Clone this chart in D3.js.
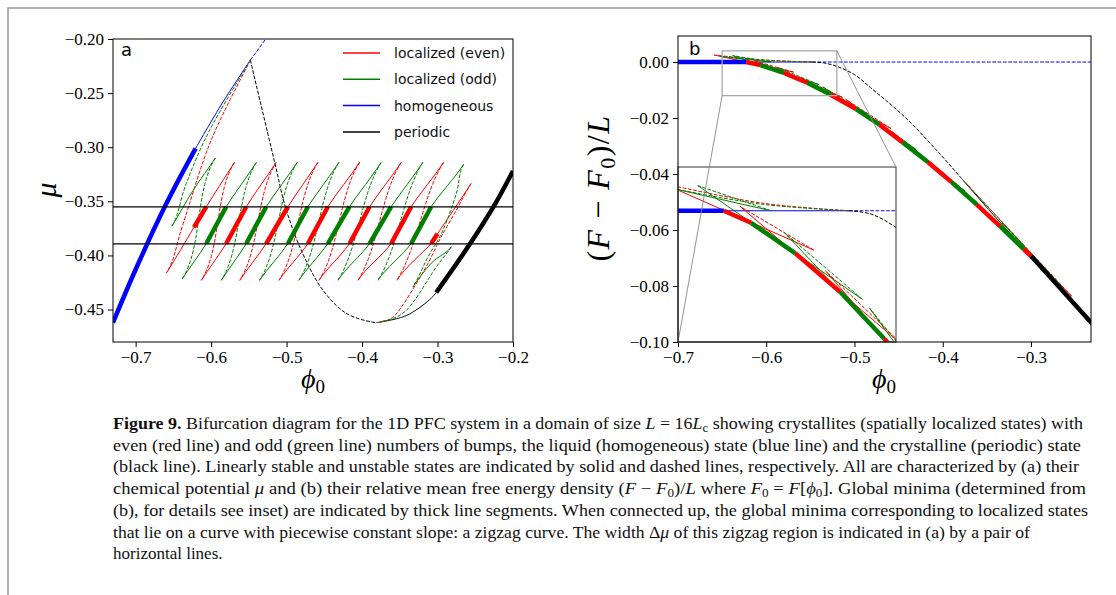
<!DOCTYPE html>
<html>
<head>
<meta charset="utf-8">
<script src="https://cdn.jsdelivr.net/npm/d3@7"></script>
<style>
  body { margin: 0; background: #fff; }
  svg { display: block; }
</style>
</head>
<body>
<script>
// ---------- panel a : chemical potential mu against phi0 ----------
const phiTicksA = [-0.7, -0.6, -0.5, -0.4, -0.3, -0.2];
const muTicksA = [-0.45, -0.40, -0.35, -0.30, -0.25, -0.20];
const zigzagMu = [-0.3552, -0.3894];   // the pair of horizontal lines

const blueThickA = [[-0.73, -0.462], [-0.70, -0.413], [-0.66, -0.353], [-0.6205, -0.301]];
const blueThinA = [[-0.6205, -0.301], [-0.585, -0.259], [-0.548, -0.2195]];
const blueDashA = [[-0.548, -0.2195], [-0.52, -0.1926]];

const blackDashA = [[-0.548, -0.2195], [-0.5159, -0.3136], [-0.5004, -0.358], [-0.4784, -0.3985],
    [-0.452, -0.432], [-0.421, -0.4535], [-0.3857, -0.4617], [-0.3775, -0.4618]];
const blackThinA = [[-0.3775, -0.4618], [-0.3415, -0.4556], [-0.3106, -0.441], [-0.3018, -0.4343]];
const blackThickA = [[-0.3018, -0.4343], [-0.2576, -0.390], [-0.2258, -0.355], [-0.2, -0.322]];

// branch points where the localized branches join the others (no fold there)
const junctionsA = [[-0.548, -0.2195], [-0.3775, -0.4618]];

// localized states, even number of bumps
const redSolidA = [
    [[-0.659, -0.416], [-0.6227, -0.374], [-0.6064, -0.355], [-0.569, -0.314]],
    [[-0.613, -0.423], [-0.580, -0.389], [-0.5534, -0.355], [-0.5137, -0.314]],
    [[-0.562, -0.423], [-0.527, -0.389], [-0.4982, -0.355], [-0.4585, -0.314]],
    [[-0.510, -0.423], [-0.4717, -0.389], [-0.4453, -0.355], [-0.4033, -0.314]],
    [[-0.457, -0.423], [-0.4166, -0.389], [-0.390, -0.355], [-0.3481, -0.314]],
    [[-0.4055, -0.423], [-0.3614, -0.389], [-0.3349, -0.355], [-0.292, -0.314]],
    [[-0.354, -0.423], [-0.3084, -0.389], [-0.300, -0.380], [-0.2556, -0.3336]]
];
const redDashA = [
    [[-0.548, -0.2195], [-0.600, -0.2935], [-0.637, -0.3706], [-0.659, -0.416]],
    [[-0.569, -0.314], [-0.613, -0.423]],
    [[-0.5137, -0.314], [-0.562, -0.423]],
    [[-0.4585, -0.314], [-0.510, -0.423]],
    [[-0.4033, -0.314], [-0.457, -0.423]],
    [[-0.3481, -0.314], [-0.4055, -0.423]],
    [[-0.292, -0.314], [-0.354, -0.423]],
    [[-0.2556, -0.3336], [-0.2752, -0.3583], [-0.296, -0.384], [-0.318, -0.414], [-0.3547, -0.454], [-0.3775, -0.4618]]
];
// localized states, odd number of bumps
const greenSolidA = [
    [[-0.652, -0.373], [-0.624, -0.340], [-0.5945, -0.310]],
    [[-0.6382, -0.4216], [-0.6064, -0.389], [-0.580, -0.355], [-0.540, -0.314]],
    [[-0.5865, -0.423], [-0.5534, -0.389], [-0.527, -0.355], [-0.4859, -0.314]],
    [[-0.5358, -0.423], [-0.4982, -0.389], [-0.4717, -0.355], [-0.4307, -0.314]],
    [[-0.4837, -0.423], [-0.4453, -0.389], [-0.4166, -0.355], [-0.3746, -0.314]],
    [[-0.432, -0.423], [-0.390, -0.389], [-0.3614, -0.355], [-0.3194, -0.314]],
    [[-0.379, -0.423], [-0.3349, -0.389], [-0.3084, -0.355], [-0.2656, -0.316]],
    [[-0.3327, -0.4293], [-0.308, -0.407], [-0.2817, -0.392]]
];
const greenDashA = [
    [[-0.548, -0.2195], [-0.602, -0.2843], [-0.633, -0.3336], [-0.652, -0.373]],
    [[-0.5945, -0.310], [-0.6382, -0.4216]],
    [[-0.540, -0.314], [-0.5865, -0.423]],
    [[-0.4859, -0.314], [-0.5358, -0.423]],
    [[-0.4307, -0.314], [-0.4837, -0.423]],
    [[-0.3746, -0.314], [-0.432, -0.423]],
    [[-0.3194, -0.314], [-0.379, -0.423]],
    [[-0.2656, -0.316], [-0.2752, -0.343], [-0.293, -0.377], [-0.3128, -0.4016], [-0.3327, -0.4293]],
    [[-0.2817, -0.392], [-0.3018, -0.4108], [-0.3415, -0.4509], [-0.3775, -0.4618]]
];

// global minima (thick zigzag), shared by both panels
const zigPhi = [-0.6227, -0.6064, -0.580, -0.5534, -0.527, -0.4982, -0.4717,
    -0.4453, -0.4166, -0.390, -0.3614, -0.3349, -0.3084, -0.300];
const zigMuLo = [-0.374, -0.389, -0.389, -0.389, -0.389, -0.389, -0.389,
    -0.389, -0.389, -0.389, -0.389, -0.389, -0.389];
const zigMuHi = [-0.355, -0.355, -0.355, -0.355, -0.355, -0.355, -0.355,
    -0.355, -0.355, -0.355, -0.355, -0.355, -0.380];
const zigF = [0, -0.0011, -0.0039, -0.0074, -0.0117, -0.0168, -0.0224,
    -0.0287, -0.0358, -0.0429, -0.0509, -0.0587, -0.0668, -0.0693];

// ---------- panel b : (F - F0)/L against phi0 ----------
const phiTicksB = [-0.7, -0.6, -0.5, -0.4, -0.3];
const fTicksB = [0, -0.02, -0.04, -0.06, -0.08, -0.10];
const insetPhi = [-0.65, -0.52];
const insetF = [-0.012, 0.004];

const blueThickB = [[-0.7, 0], [-0.6227, 0]];
const blueThinB = [[-0.6227, 0], [-0.548, 0]];
const blueDashB = [[-0.548, 0], [-0.22, 0]];
const blackDashB = [[-0.548, 0], [-0.535, -0.0003], [-0.5195, -0.0016], [-0.50, -0.0045],
    [-0.482, -0.0091], [-0.4425, -0.0198], [-0.403, -0.0329], [-0.3775, -0.042]];
const blackThinB = [[-0.3775, -0.042], [-0.34, -0.0555], [-0.300, -0.0693]];
const blackThickB = [[-0.300, -0.0693], [-0.265, -0.0814], [-0.225, -0.0955]];

const redSolidB = [
    [[-0.659, 0.0025], [-0.569, -0.0036]],
    [[-0.613, 0.0004], [-0.5137, -0.0126]],
    [[-0.562, -0.0055], [-0.4585, -0.0238]],
    [[-0.510, -0.0133], [-0.4033, -0.0387]],
    [[-0.457, -0.0250], [-0.3481, -0.0541]],
    [[-0.4055, -0.0379], [-0.292, -0.0713]],
    [[-0.354, -0.0527], [-0.254, -0.0836]]
];
const redDashB = [
    [[-0.548, 0], [-0.600, 0.0007], [-0.659, 0.0025]],
    [[-0.569, -0.0036], [-0.613, 0.0004]],
    [[-0.5137, -0.0126], [-0.562, -0.0055]],
    [[-0.4585, -0.0238], [-0.510, -0.0133]],
    [[-0.4033, -0.0387], [-0.457, -0.0250]],
    [[-0.3481, -0.0541], [-0.4055, -0.0379]],
    [[-0.292, -0.0713], [-0.354, -0.0527]],
    [[-0.254, -0.0836], [-0.3775, -0.042]]
];
const greenSolidB = [
    [[-0.652, 0.0020], [-0.5945, 0.0000]],
    [[-0.6382, 0.0023], [-0.540, -0.0081]],
    [[-0.5865, -0.0020], [-0.4859, -0.0184]],
    [[-0.5358, -0.0089], [-0.4307, -0.0311]],
    [[-0.4837, -0.0192], [-0.3746, -0.0462]],
    [[-0.432, -0.0311], [-0.3194, -0.0627]],
    [[-0.379, -0.0452], [-0.2656, -0.0799]],
    [[-0.3327, -0.0575], [-0.2817, -0.0745]]
];
const greenDashB = [
    [[-0.548, 0], [-0.600, 0.0006], [-0.652, 0.0020]],
    [[-0.5945, 0.0000], [-0.6382, 0.0023]],
    [[-0.540, -0.0081], [-0.5865, -0.0020]],
    [[-0.4859, -0.0184], [-0.5358, -0.0089]],
    [[-0.4307, -0.0311], [-0.4837, -0.0192]],
    [[-0.3746, -0.0462], [-0.432, -0.0311]],
    [[-0.3194, -0.0627], [-0.379, -0.0452]],
    [[-0.2656, -0.0799], [-0.3327, -0.0575]],
    [[-0.2817, -0.0745], [-0.3775, -0.042]]
];

const legendLabels = ['localized (even)', 'localized (odd)', 'homogeneous', 'periodic'];

const caption = [
    [['Figure 9.', 'b'], [' Bifurcation diagram for the 1D PFC system in a domain of size '], ['L', 'i'], [' = 16'], ['L', 'i'], ['c', 's'], [' showing crystallites (spatially localized states) with']],
    [['even (red line) and odd (green line) numbers of bumps, the liquid (homogeneous) state (blue line) and the crystalline (periodic) state']],
    [['(black line). Linearly stable and unstable states are indicated by solid and dashed lines, respectively. All are characterized by (a) their']],
    [['chemical potential '], ['\u03bc', 'i'], [' and (b) their relative mean free energy density ('], ['F', 'i'], [' \u2212 '], ['F', 'i'], ['0', 's'], [')/'], ['L', 'i'], [' where '], ['F', 'i'], ['0', 's'], [' = '], ['F', 'i'], ['['], ['\u03d5', 'i'], ['0', 's'], [']. Global minima (determined from']],
    [['(b), for details see inset) are indicated by thick line segments. When connected up, the global minima corresponding to localized states']],
    [['that lie on a curve with piecewise constant slope: a zigzag curve. The width \u0394'], ['\u03bc', 'i'], [' of this zigzag region is indicated in (a) by a pair of']],
    [['horizontal lines.']]
];
const captionWidth = [970, 968, 966, 973, 975, 917, 0];

// ---------- drawing ----------
const RED = '#ff0000', GREEN = '#008000', BLUE = '#0000ff', BLACK = '#000';
const DASH = '3.7,1.6';
const FOLD_DIR = [0.54, -0.84];   // on-screen direction of the narrow loops at their tips

let svg = d3.select('body').append('svg')
    .attr('width', 1116).attr('height', 595)
    .style('font-family', "'Liberation Serif', 'DejaVu Serif', serif");

// figure frame, open to the right and bottom
svg.append('path').attr('d', 'M8,600V8H1120')
    .attr('fill', 'none').attr('stroke', '#9a9a9a').attr('stroke-width', 1.5);

let defs = svg.append('defs');

function lineGen(x, y) {
    return d3.line().x(d => x(d[0])).y(d => y(d[1])).curve(d3.curveCatmullRom.alpha(0.5));
}

function drawLines(g, data, gen, color, width, dashed) {
    g.selectAll(null).data(data).enter().append('path')
        .attr('d', gen)
        .attr('fill', 'none')
        .attr('stroke', color)
        .attr('stroke-width', width)
        .attr('stroke-dasharray', dashed ? DASH : null);
}

// branch piece between two folds: solid and dashed parts share the tangent at
// every fold so the loops close smoothly; Catmull-Rom tangents elsewhere
function isJunction(d) {
    return junctionsA.some(j => j[0] === d[0] && j[1] === d[1]);
}
function foldTangent(a, b, len) {
    let s = (b[0] - a[0]) * FOLD_DIR[0] + (b[1] - a[1]) * FOLD_DIR[1] >= 0 ? 1 : -1;
    return [FOLD_DIR[0] * s * len, FOLD_DIR[1] * s * len];
}
function foldPath(x, y) {
    return function(pts) {
        let p = pts.map(d => [x(d[0]), y(d[1])]);
        let n = p.length;
        let path = d3.path();
        path.moveTo(p[0][0], p[0][1]);
        for (let i = 0; i < n - 1; i++) {
            let a = p[i], b = p[i + 1];
            let len = 0.3 * Math.hypot(b[0] - a[0], b[1] - a[1]);
            let c1, c2;
            if (i === 0 && !isJunction(pts[0])) {
                let t = foldTangent(a, b, len);
                c1 = [a[0] + t[0], a[1] + t[1]];
            } else {
                let prev = i === 0 ? a : p[i - 1];
                c1 = [a[0] + (b[0] - prev[0]) / 6, a[1] + (b[1] - prev[1]) / 6];
            }
            if (i === n - 2 && !isJunction(pts[n - 1])) {
                let t = foldTangent(a, b, len);
                c2 = [b[0] - t[0], b[1] - t[1]];
            } else {
                let next = i === n - 2 ? b : p[i + 2];
                c2 = [b[0] - (next[0] - a[0]) / 6, b[1] - (next[1] - a[1]) / 6];
            }
            path.bezierCurveTo(c1[0], c1[1], c2[0], c2[1], b[0], b[1]);
        }
        return path.toString();
    };
}

function drawAxes(g, x, y, xTicks, yTicks, xFmt, yFmt) {
    let [x0, x1] = x.range(), [y0, y1] = y.range();
    g.append('g').attr('transform', `translate(0,${y0})`)
        .call(d3.axisBottom(x).tickValues(xTicks).tickFormat(d3.format(xFmt)).tickSize(5).tickPadding(4))
        .call(s => s.select('.domain').remove())
        .attr('font-family', null).attr('font-size', 17);
    g.append('g').attr('transform', `translate(${x0},0)`)
        .call(d3.axisLeft(y).tickValues(yTicks).tickFormat(d3.format(yFmt)).tickSize(5).tickPadding(4))
        .call(s => s.select('.domain').remove())
        .attr('font-family', null).attr('font-size', 17);
    g.append('rect').attr('x', x0).attr('y', y1).attr('width', x1 - x0).attr('height', y0 - y1)
        .attr('fill', 'none').attr('stroke', BLACK).attr('stroke-width', 1);
}

function clip(id, x, y) {
    let [x0, x1] = x.range(), [y0, y1] = y.range();
    defs.append('clipPath').attr('id', id).append('rect')
        .attr('x', x0).attr('y', y1).attr('width', x1 - x0).attr('height', y0 - y1);
    return `url(#${id})`;
}

function phiLabel(g, cx, baseline) {
    let t = g.append('text').attr('x', cx).attr('y', baseline).attr('text-anchor', 'middle')
        .attr('font-size', 28);
    t.append('tspan').attr('font-style', 'italic').text('\u03d5');
    t.append('tspan').attr('font-size', 19).attr('dy', 5).text('0');
}

// ----- panel a -----
let xA = d3.scaleLinear().domain([-0.73, -0.2]).range([113, 513]);
let yA = d3.scaleLinear().domain([-0.48, -0.2]).range([342, 39]);
let lineA = lineGen(xA, yA);
let foldA = foldPath(xA, yA);
let gA = svg.append('g');
let plotA = gA.append('g').attr('clip-path', clip('clipA', xA, yA));

drawLines(plotA, [blueThinA], lineA, BLUE, 1);
drawLines(plotA, [blueDashA], lineA, BLUE, 1, true);
drawLines(plotA, [blackDashA], lineA, BLACK, 1, true);
drawLines(plotA, [blackThinA], lineA, BLACK, 1);
drawLines(plotA, redSolidA, foldA, RED, 1);
drawLines(plotA, redDashA, foldA, RED, 1, true);
drawLines(plotA, greenSolidA, foldA, GREEN, 1);
drawLines(plotA, greenDashA, foldA, GREEN, 1, true);
drawLines(plotA, [blueThickA], lineA, BLUE, 4.5);
drawLines(plotA, [blackThickA], lineA, BLACK, 4.5);

plotA.selectAll('.zig').data(zigMuLo).enter().append('line')
    .attr('x1', (d, i) => xA(zigPhi[i])).attr('y1', d => yA(d))
    .attr('x2', (d, i) => xA(zigPhi[i + 1])).attr('y2', (d, i) => yA(zigMuHi[i]))
    .attr('stroke', (d, i) => i % 2 ? GREEN : RED).attr('stroke-width', 4.5);

plotA.selectAll('.hline').data(zigzagMu).enter().append('line')
    .attr('x1', 113).attr('x2', 513).attr('y1', d => yA(d)).attr('y2', d => yA(d))
    .attr('stroke', BLACK).attr('stroke-width', 1.3);

drawAxes(gA, xA, yA, phiTicksA, muTicksA, '.1f', '.2f');

let legend = gA.append('g').attr('font-family', "'DejaVu Sans', sans-serif").attr('font-size', 14);
legend.selectAll('line').data(legendLabels).enter().append('line')
    .attr('x1', 343).attr('x2', 380)
    .attr('y1', (d, i) => 53 + i * 26.3).attr('y2', (d, i) => 53 + i * 26.3)
    .attr('stroke', (d, i) => [RED, GREEN, BLUE, BLACK][i]).attr('stroke-width', 1.5);
legend.selectAll('text').data(legendLabels).enter().append('text')
    .attr('x', 394).attr('y', (d, i) => 58 + i * 26.3).attr('fill', '#111').text(d => d);

gA.append('text').attr('x', 121).attr('y', 56).attr('font-family', "'DejaVu Sans', sans-serif")
    .attr('font-size', 18).text('a');
phiLabel(gA, 313, 388);
gA.append('text').attr('transform', 'translate(56,190) rotate(-90)').attr('text-anchor', 'middle')
    .attr('font-size', 30).attr('font-style', 'italic').text('\u03bc');

// ----- panel b -----
let xB = d3.scaleLinear().domain([-0.7, -0.232]).range([678, 1091]);
let yB = d3.scaleLinear().domain([-0.10, 0.0093]).range([342, 36]);
let xIn = d3.scaleLinear().domain(insetPhi).range([678, 896]);
let yIn = d3.scaleLinear().domain(insetF).range([342, 167]);

function drawB(g, x, y) {
    let gen = lineGen(x, y);
    drawLines(g, [blueThinB], gen, BLUE, 1);
    drawLines(g, [blueDashB], gen, BLUE, 1, true);
    drawLines(g, [blackDashB], gen, BLACK, 1, true);
    drawLines(g, [blackThinB], gen, BLACK, 1);
    drawLines(g, redSolidB, gen, RED, 1);
    drawLines(g, redDashB, gen, RED, 1, true);
    drawLines(g, greenSolidB, gen, GREEN, 1);
    drawLines(g, greenDashB, gen, GREEN, 1, true);
    drawLines(g, [blueThickB], gen, BLUE, 4.5);
    drawLines(g, [blackThickB], gen, BLACK, 4.5);
    g.selectAll(null).data(zigF.slice(0, -1)).enter().append('line')
        .attr('x1', (d, i) => x(zigPhi[i])).attr('y1', d => y(d))
        .attr('x2', (d, i) => x(zigPhi[i + 1])).attr('y2', (d, i) => y(zigF[i + 1]))
        .attr('stroke', (d, i) => i % 2 ? GREEN : RED).attr('stroke-width', 4.5);
}

let gB = svg.append('g');
let plotB = gB.append('g').attr('clip-path', clip('clipB', xB, yB));
drawB(plotB, xB, yB);

// zoomed region marker
plotB.append('rect')
    .attr('x', xB(insetPhi[0])).attr('y', yB(insetF[1]))
    .attr('width', xB(insetPhi[1]) - xB(insetPhi[0])).attr('height', yB(insetF[0]) - yB(insetF[1]))
    .attr('fill', 'none').attr('stroke', '#aaa').attr('stroke-width', 1.3);

// inset
let gIn = gB.append('g');
gIn.append('rect').attr('x', 678).attr('y', 167).attr('width', 218).attr('height', 175).attr('fill', '#fff');
let plotIn = gIn.append('g').attr('clip-path', clip('clipIn', xIn, yIn));
drawB(plotIn, xIn, yIn);
gIn.append('rect').attr('x', 678).attr('y', 167).attr('width', 218).attr('height', 175)
    .attr('fill', 'none').attr('stroke', '#333').attr('stroke-width', 1);

// connectors from marker to inset
gB.append('line')
    .attr('x1', xB(insetPhi[0])).attr('y1', yB(insetF[0])).attr('x2', xIn(insetPhi[0])).attr('y2', yIn(insetF[0]))
    .attr('stroke', '#888').attr('stroke-width', 0.9);
gB.append('line')
    .attr('x1', xB(insetPhi[1])).attr('y1', yB(insetF[1])).attr('x2', xIn(insetPhi[1])).attr('y2', yIn(insetF[1]))
    .attr('stroke', '#888').attr('stroke-width', 0.9);

drawAxes(gB, xB, yB, phiTicksB, fTicksB, '.1f', '.2f');

gB.append('text').attr('x', 689).attr('y', 55).attr('font-family', "'DejaVu Sans', sans-serif")
    .attr('font-size', 18).text('b');
phiLabel(gB, 884, 388);

let yl = gB.append('text').attr('transform', 'translate(609,188) rotate(-90)')
    .attr('text-anchor', 'middle').attr('font-size', 32).attr('letter-spacing', 1.5);
yl.append('tspan').text('(');
yl.append('tspan').attr('font-style', 'italic').text('F');
yl.append('tspan').text(' \u2212 ');
yl.append('tspan').attr('font-style', 'italic').text('F');
yl.append('tspan').attr('font-size', 22).attr('dy', 6).text('0');
yl.append('tspan').attr('dy', -6).text(')/');
yl.append('tspan').attr('font-style', 'italic').text('L');

// ----- caption -----
let cap = svg.append('g').attr('font-size', 17).attr('fill', '#111');
caption.forEach((line, li) => {
    let t = cap.append('text').attr('x', 113).attr('y', 429 + li * 21.7);
    if (captionWidth[li]) t.attr('textLength', captionWidth[li]).attr('lengthAdjust', 'spacingAndGlyphs');
    let shifted = false;
    line.forEach(([s, f]) => {
        let ts = t.append('tspan').text(s);
        if (f === 'b') ts.attr('font-weight', 'bold');
        if (f === 'i') ts.attr('font-style', 'italic');
        if (f === 's') { ts.attr('font-size', 12).attr('dy', 3); shifted = true; }
        else if (shifted) { ts.attr('dy', -3); shifted = false; }
    });
});
</script>
</body>
</html>
